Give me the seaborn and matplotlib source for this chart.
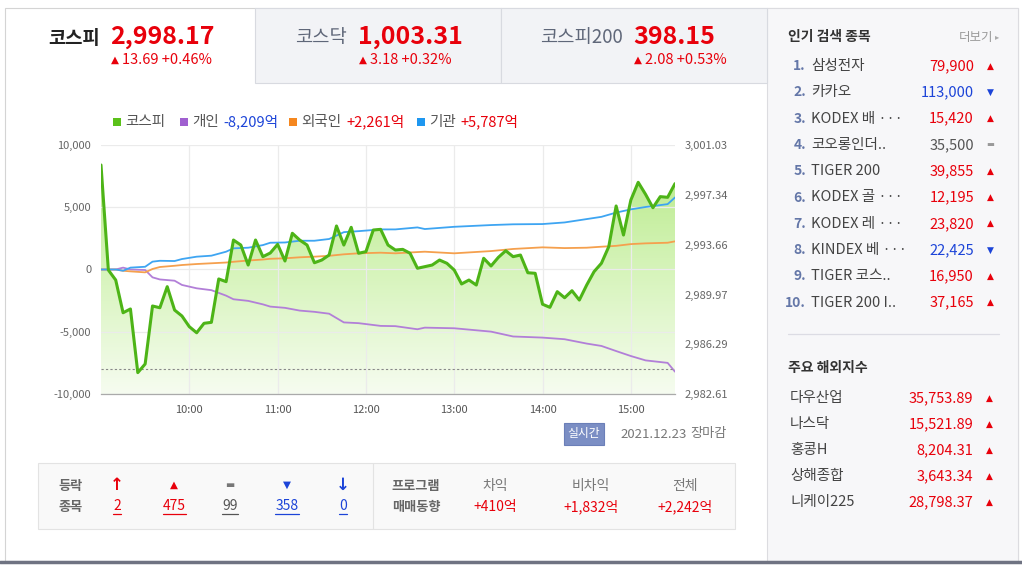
import numpy as np
import matplotlib
matplotlib.use("Agg")
import matplotlib.pyplot as plt
import seaborn as sns
from matplotlib.patches import Rectangle
from matplotlib.colors import LinearSegmentedColormap

# KOSPI index, one point every 5 minutes from 09:00 to 15:30
kospi_minutes = np.arange(0, 391, 5)
kospi_values = [
    2999.55, 2991.78, 2991.04, 2988.62, 2988.90, 2984.19, 2984.83, 2989.12, 2988.99, 2990.55,
    2988.82, 2988.38, 2987.59, 2987.14, 2987.84, 2987.91, 2991.12, 2990.92, 2994.00, 2993.63,
    2992.15, 2994.00, 2992.77, 2993.04, 2993.68, 2992.45, 2994.50, 2994.00, 2993.63, 2992.32,
    2992.52, 2992.89, 2995.04, 2993.63, 2994.94, 2993.02, 2993.14, 2994.74, 2994.79, 2993.63,
    2993.26, 2993.31, 2993.02, 2991.91, 2992.03, 2992.15, 2992.52, 2992.28, 2991.78, 2990.75,
    2991.04, 2990.67, 2992.65, 2992.08, 2992.72, 2993.21, 2992.77, 2992.89, 2991.58, 2991.54,
    2989.25, 2989.02, 2990.18, 2989.73, 2990.25, 2989.56, 2990.67, 2991.66, 2992.28, 2993.51,
    2996.52, 2994.37, 2996.96, 2998.27, 2997.38, 2996.39, 2997.21, 2997.16, 2998.17,
]
prev_close = 2984.48
right_ticks = [2982.61, 2986.29, 2989.97, 2993.66, 2997.34, 3001.03]

# investor net buying (억), read at these minutes after 09:00
flow_minutes = [0, 10, 15, 20, 30, 35, 40, 50, 55, 65, 75, 85, 90, 100, 110, 115, 125, 135, 145,
                155, 165, 175, 190, 200, 215, 220, 240, 265, 280, 300, 315, 330, 340, 350, 360,
                370, 385, 390]
individual = [0, 0, 150, 0, -40, -630, -800, -900, -1240, -1510, -1660, -2100, -2390, -2520,
              -2800, -2980, -3080, -3300, -3400, -3550, -4250, -4310, -4530, -4550, -4800, -4670,
              -4720, -4990, -5380, -5470, -5600, -5950, -6140, -6550, -6950, -7300, -7500, -8209]
foreign = [0, 0, -100, -150, -230, 40, 200, 300, 360, 440, 500, 560, 620, 720, 800, 860, 900,
           980, 1030, 1100, 1220, 1300, 1350, 1300, 1400, 1430, 1300, 1480, 1650, 1780, 1720,
           1750, 1830, 1900, 2040, 2100, 2150, 2261]
institution = [0, 0, -100, 150, 220, 630, 700, 680, 840, 1030, 1110, 1430, 1700, 1750, 1960,
               2150, 2170, 2310, 2310, 2450, 3000, 3080, 3220, 3220, 3380, 3250, 3430, 3570, 3630,
               3650, 3780, 4050, 4230, 4570, 4830, 5020, 5250, 5787]

hour_ticks = [60, 120, 180, 240, 300, 360]
hour_labels = ["10:00", "11:00", "12:00", "13:00", "14:00", "15:00"]

tabs = [("코스피", "2,998.17", "13.69 +0.46%"),
        ("코스닥", "1,003.31", "3.18 +0.32%"),
        ("코스피200", "398.15", "2.08 +0.53%")]

popular_names = ["삼성전자", "카카오", "KODEX 배 ···", "코오롱인더..", "TIGER 200",
                 "KODEX 골 ···", "KODEX 레 ···", "KINDEX 베 ···", "TIGER 코스..", "TIGER 200 I.."]
popular_prices = ["79,900", "113,000", "15,420", "35,500", "39,855",
                  "12,195", "23,820", "22,425", "16,950", "37,165"]
popular_moves = ["up", "down", "up", "flat", "up", "up", "up", "down", "up", "up"]

world_names = ["다우산업", "나스닥", "홍콩H", "상해종합", "니케이225"]
world_values = ["35,753.89", "15,521.89", "8,204.31", "3,643.34", "28,798.37"]

updown_counts = ["2", "475", "99", "358", "0"]
program_heads = ["차익", "비차익", "전체"]
program_values = ["+410억", "+1,832억", "+2,242억"]

RED = "#e8000b"
BLUE = "#1c44d8"
GRAY = "#666666"
KR = ["Noto Sans CJK KR", "DejaVu Sans"]

sns.set_theme(style="white")
plt.rcParams["font.family"] = KR

W, H = 1022, 567
fig = plt.figure(figsize=(W / 100, H / 100), dpi=100)

bg = fig.add_axes([0, 0, 1, 1], zorder=0)
bg.set_xlim(0, W)
bg.set_ylim(H, 0)
bg.axis("off")


def txt(x, y, s, size=10, color="#333333", ha="left", weight="normal", **kw):
    return bg.text(x, y, s, fontsize=size, color=color, ha=ha, va="center",
                   fontweight=weight, **kw)


# frames
bg.add_patch(Rectangle((5, 8), 1013, 553, fc="white", ec="#d4d4d4", lw=0.8))
bg.add_patch(Rectangle((767, 8), 251, 553, fc="#f7f7f9", ec="#dcdce0", lw=0.8))
bg.add_patch(Rectangle((255, 8), 246, 75, fc="#f2f3f6", ec="#d8dae0", lw=0.8))
bg.add_patch(Rectangle((501, 8), 266, 75, fc="#f2f3f6", ec="#d8dae0", lw=0.8))
bg.plot([0, W], [562, 562], color="#6f7382", lw=2.5)

# tab headers
tab_x = [(100, 110), (347, 358), (623, 633)]
for i, (name, val, chg) in enumerate(tabs):
    xr, xv = tab_x[i]
    txt(xr, 38, name, size=13.5, color="#222222" if i == 0 else "#5f6779",
        ha="right", weight="bold" if i == 0 else "medium")
    txt(xv, 37, val, size=18, color=RED, weight="bold")
    txt(xv + 1, 60, "▲", size=7.5, color=RED, family="DejaVu Sans")
    txt(xv + 12, 60, chg, size=10.5, color=RED)

# legend
legend_items = [("#5bc11a", 113, "코스피", None, None),
                ("#a060d0", 180, "개인", "-8,209억", BLUE),
                ("#f5871f", 289, "외국인", "+2,261억", RED),
                ("#1e97f0", 417, "기관", "+5,787억", RED)]
fig.canvas.draw()
for col, x, lab, val, vcol in legend_items:
    bg.add_patch(Rectangle((x, 118), 8, 8, fc=col, ec="none"))
    t = txt(x + 12, 122, lab, size=10.5, color="#555555")
    if val:
        bb = t.get_window_extent(fig.canvas.get_renderer()).transformed(bg.transData.inverted())
        txt(bb.x1 + 5, 122, val, size=10.5, color=vcol)

# chart
ax = fig.add_axes([101 / W, 1 - 394 / H, 574 / W, 249 / H], zorder=2)
ax2 = ax.twinx()
ax3 = ax.twinx()
ax2.set_zorder(1)
ax.set_zorder(2)
ax3.set_zorder(3)
ax.patch.set_visible(False)
ax3.patch.set_visible(False)

y0, y1 = right_ticks[0], right_ticks[-1]

cmap = LinearSegmentedColormap.from_list("fill", ["#f6fcf0", "#d6f4ba", "#b5e984"])
grad = np.linspace(0, 1, 256).reshape(-1, 1)
im = ax2.imshow(grad, cmap=cmap, aspect="auto", extent=[0, 390, y0, y1], origin="lower")
poly = ax2.fill_between(kospi_minutes, kospi_values, y0, color="none", lw=0)
im.set_clip_path(poly.get_paths()[0], transform=ax2.transData)

sns.lineplot(x=flow_minutes, y=individual, ax=ax, color="#b27fd8", lw=1.3)
sns.lineplot(x=flow_minutes, y=foreign, ax=ax, color="#f5a04e", lw=1.3)
sns.lineplot(x=flow_minutes, y=institution, ax=ax, color="#3ea5f2", lw=1.3)

sns.lineplot(x=kospi_minutes, y=kospi_values, ax=ax3, color="#4db417", lw=2.2)
ax3.axhline(prev_close, color="#888888", lw=0.8, ls=(0, (2, 2)), zorder=1)

ax.set_xlim(0, 390)
ax.set_ylim(-10000, 10000)
for a in (ax2, ax3):
    a.set_ylim(y0, y1)

ax.set_yticks([-10000, -5000, 0, 5000, 10000])
ax.set_yticklabels([f"{v:,}" for v in [-10000, -5000, 0, 5000, 10000]])
ax.set_xticks(hour_ticks)
ax.set_xticklabels(hour_labels)
ax.grid(True, color="#ebebeb", lw=0.9)
ax.tick_params(axis="y", length=0, pad=7, labelsize=8, labelcolor="#666666")
ax.tick_params(axis="x", length=0, pad=8, labelsize=8, labelcolor="#555555")
ax.set_xlabel("")
ax.set_ylabel("")
for s in ["top", "left", "right"]:
    ax.spines[s].set_visible(False)
ax.spines["bottom"].set_color("#aaaaaa")
ax.spines["bottom"].set_linewidth(0.9)

ax3.set_yticks(right_ticks)
ax3.set_yticklabels([f"{v:,.2f}" for v in right_ticks])
ax3.tick_params(axis="y", length=0, pad=7, labelsize=8, labelcolor="#666666")
ax3.set_ylabel("")
ax2.set_yticks([])
ax2.set_ylabel("")
for a in (ax2, ax3):
    a.tick_params(axis="x", bottom=False, labelbottom=False)
    a.set_xlabel("")
    for s in a.spines.values():
        s.set_visible(False)

# status line under chart
txt(584, 434, "실시간", size=8.5, color="white", ha="center",
    bbox=dict(boxstyle="square,pad=0.35", fc="#7b8ec4", ec="#6b7fb8", lw=0.8))
txt(620, 434, "2021.12.23", size=9.5, color="#777777")
txt(690, 434, "장마감", size=9.5, color="#777777")

# advance / decline box
bg.add_patch(Rectangle((38, 463), 697, 66, fc="#f9f9f9", ec="#e3e3e3", lw=0.8))
bg.plot([373, 373], [463, 529], color="#e3e3e3", lw=0.8)
txt(71, 486, "등락", size=9.5, color=GRAY, ha="center", weight="bold")
txt(71, 507, "종목", size=9.5, color=GRAY, ha="center", weight="bold")
sym_x = [117, 174, 230, 287, 343]
syms = ["↑", "▲", "▬", "▼", "↓"]
sym_cols = [RED, RED, "#777777", BLUE, BLUE]
sym_size = [12, 7.5, 7, 7.5, 12]
renderer = fig.canvas.get_renderer()
inv = bg.transData.inverted()
for x, s, c, sz, n in zip(sym_x, syms, sym_cols, sym_size, updown_counts):
    txt(x, 485, s, size=sz, color=c, ha="center", weight="bold", family="DejaVu Sans")
    t = txt(x, 506, n, size=10, color=c if c != "#777777" else "#555555", ha="center")
    bb = t.get_window_extent(renderer).transformed(inv)
    bg.plot([bb.x0, bb.x1], [513.5, 513.5], color=t.get_color(), lw=0.9)

txt(416, 486, "프로그램", size=9.5, color=GRAY, ha="center", weight="bold")
txt(416, 507, "매매동향", size=9.5, color=GRAY, ha="center", weight="bold")
for x, h, v in zip([495, 591, 685], program_heads, program_values):
    txt(x, 486, h, size=10, color="#777777", ha="center")
    txt(x, 507, v, size=10, color=RED, ha="center")

# popular searches
txt(788, 37, "인기 검색 종목", size=10, color="#333333", weight="bold")
txt(993, 37, "더보기", size=9, color="#999999", ha="right")
txt(995, 37, "▸", size=6, color="#aaaaaa", family="DejaVu Sans")
move_sym = {"up": ("▲", RED), "down": ("▼", BLUE), "flat": ("▬", "#999999")}
for i, (nm, pr, mv) in enumerate(zip(popular_names, popular_prices, popular_moves)):
    y = 66 + i * 26.3
    sym, col = move_sym[mv]
    txt(806, y, f"{i + 1}.", size=10, color="#6477a8", ha="right", weight="bold")
    txt(811, y, nm, size=10.5, color="#444444")
    txt(974, y, pr, size=10.5, color=col if mv != "flat" else "#555555", ha="right")
    txt(990, y, sym, size=6.5 if mv != "flat" else 6, color=col, ha="center",
        family="DejaVu Sans")

bg.plot([788, 999], [334, 334], color="#dcdce4", lw=0.9)
txt(788, 368, "주요 해외지수", size=10, color="#333333", weight="bold")
for i, (nm, v) in enumerate(zip(world_names, world_values)):
    y = 398 + i * 26
    txt(790, y, nm, size=10.5, color="#444444")
    txt(973, y, v, size=10.5, color=RED, ha="right")
    txt(989, y, "▲", size=6.5, color=RED, ha="center", family="DejaVu Sans")

fig.savefig("out.png", dpi=100)
